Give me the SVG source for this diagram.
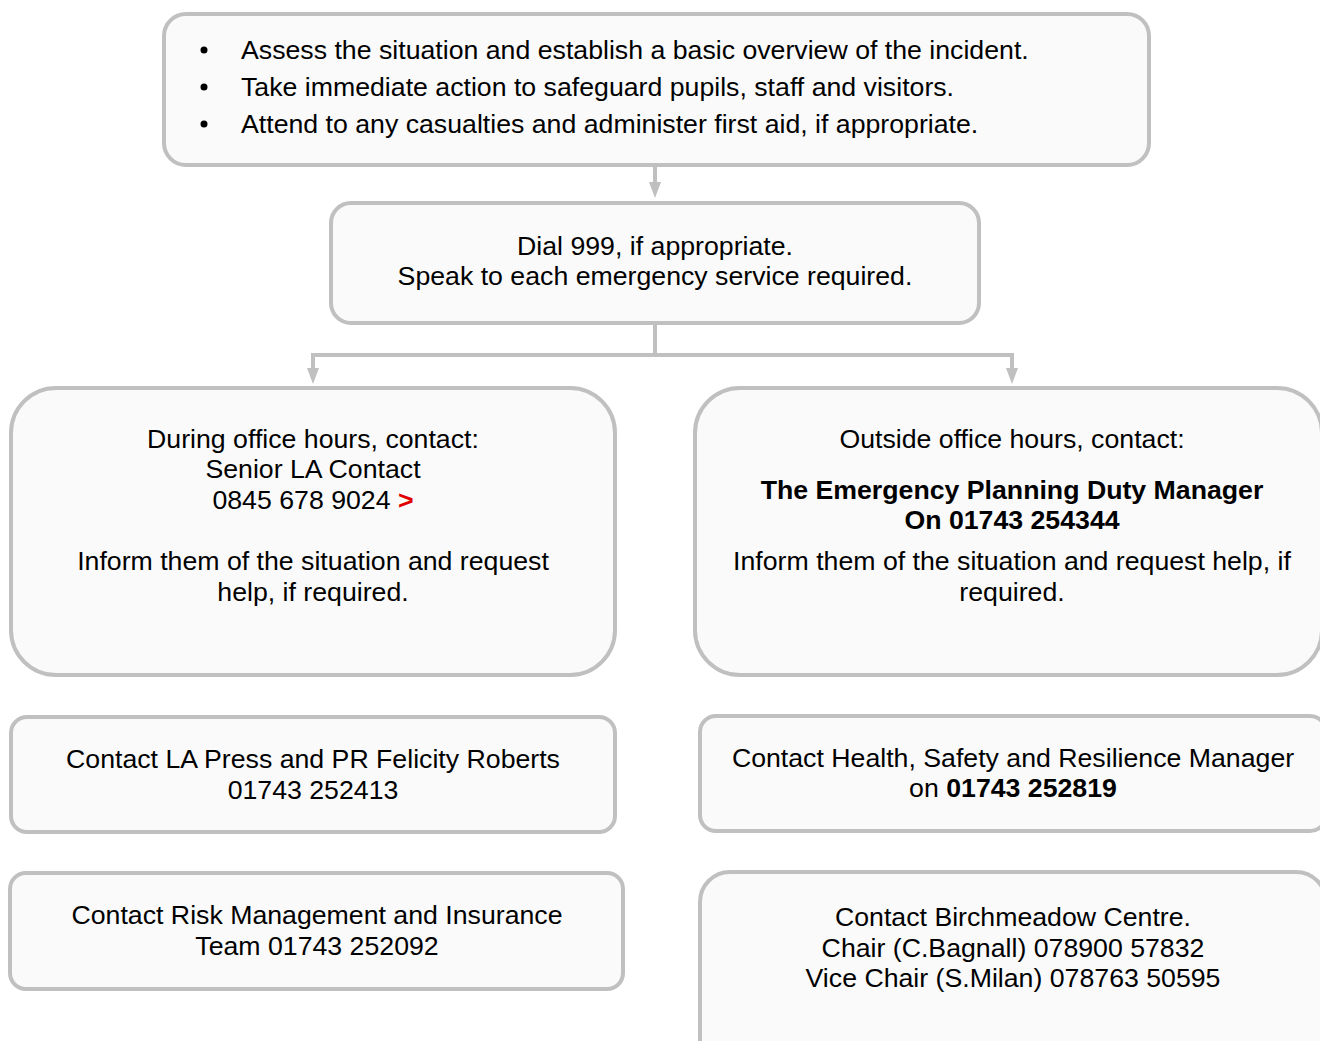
<svg xmlns="http://www.w3.org/2000/svg" width="1320" height="1041" viewBox="0 0 1320 1041">
<defs>
<style>
.box{fill:#fafafa;stroke:#c0c0c0;stroke-width:4}
.t{font-family:"Liberation Sans",Arial,sans-serif;font-size:26.7px;fill:#000;text-anchor:middle}
.tl{font-family:"Liberation Sans",Arial,sans-serif;font-size:26.7px;fill:#000}
.b{font-weight:bold}
.con{fill:none;stroke:#c0c0c0;stroke-width:4}
.ah{fill:#c0c0c0}
</style>
</defs>
<rect width="1320" height="1041" fill="#fff"/>
<g id="connectors">
<path class="con" d="M655,167 V184"/>
<path class="ah" d="M649,182 L661,182 L655,198 Z"/>
<path class="con" d="M655,325 V355 M313,355 H1012"/>
<path class="con" d="M313,353 V370 M1012,353 V370"/>
<path class="ah" d="M307,368 L319,368 L313,384 Z"/>
<path class="ah" d="M1006,368 L1018,368 L1012,384 Z"/>
</g>
<g id="n1">
<rect class="box" x="164" y="14" width="985" height="151" rx="22"/>
<circle cx="204" cy="50" r="3.5"/>
<circle cx="204" cy="87" r="3.5"/>
<circle cx="204" cy="124" r="3.5"/>
<text class="tl" x="241" y="59">Assess the situation and establish a basic overview of the incident.</text>
<text class="tl" x="241" y="96">Take immediate action to safeguard pupils, staff and visitors.</text>
<text class="tl" x="241" y="133">Attend to any casualties and administer first aid, if appropriate.</text>
</g>
<g id="n2">
<rect class="box" x="331" y="203" width="648" height="120" rx="20"/>
<text class="t" x="655" y="255">Dial 999, if appropriate.</text>
<text class="t" x="655" y="285">Speak to each emergency service required.</text>
</g>
<g id="n3">
<rect class="box" x="11" y="388" width="604" height="287" rx="45"/>
<text class="t" x="313" y="448">During office hours, contact:</text>
<text class="t" x="313" y="478">Senior LA Contact</text>
<text class="t" x="313" y="509">0845 678 9024 <tspan class="b" fill="#e00000">&gt;</tspan></text>
<text class="t" x="313" y="570">Inform them of the situation and request</text>
<text class="t" x="313" y="601">help, if required.</text>
</g>
<g id="n4">
<rect class="box" x="695" y="388" width="627" height="287" rx="45"/>
<text class="t" x="1012" y="448">Outside office hours, contact:</text>
<text class="t b" x="1012" y="499">The Emergency Planning Duty Manager</text>
<text class="t b" x="1012" y="529">On 01743 254344</text>
<text class="t" x="1012" y="570">Inform them of the situation and request help, if</text>
<text class="t" x="1012" y="601">required.</text>
</g>
<g id="n5">
<rect class="box" x="11" y="717" width="604" height="115" rx="16"/>
<text class="t" x="313" y="768">Contact LA Press and PR Felicity Roberts</text>
<text class="t" x="313" y="799">01743 252413</text>
</g>
<g id="n6">
<rect class="box" x="700" y="716" width="626" height="115" rx="16"/>
<text class="t" x="1013" y="767">Contact Health, Safety and Resilience Manager</text>
<text class="t" x="1013" y="797">on <tspan class="b">01743 252819</tspan></text>
</g>
<g id="n7">
<rect class="box" x="10" y="873" width="613" height="116" rx="16"/>
<text class="t" x="317" y="924">Contact Risk Management and Insurance</text>
<text class="t" x="317" y="955">Team 01743 252092</text>
</g>
<g id="n8">
<rect class="box" x="700" y="872" width="626" height="200" rx="30"/>
<text class="t" x="1013" y="926">Contact Birchmeadow Centre.</text>
<text class="t" x="1013" y="957">Chair (C.Bagnall) 078900 57832</text>
<text class="t" x="1013" y="987">Vice Chair (S.Milan) 078763 50595</text>
</g>
</svg>
